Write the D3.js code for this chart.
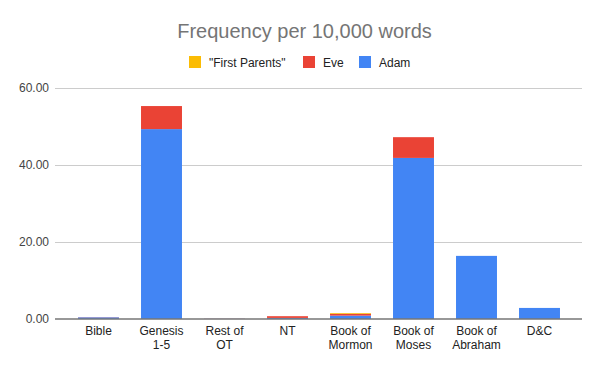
<!DOCTYPE html>
<html>
<head>
<meta charset="utf-8">
<script src="https://cdn.jsdelivr.net/npm/d3@7"></script>
<style>
  body { margin: 0; background: #fff; }
  svg { font-family: Arial, "Liberation Sans", sans-serif; }
</style>
</head>
<body>
<div id="chart"></div>
<script>
const categories = ['Bible', 'Genesis 1-5', 'Rest of OT', 'NT', 'Book of Mormon', 'Book of Moses', 'Book of Abraham', 'D&C'];
const labelLines = [['Bible'], ['Genesis', '1-5'], ['Rest of', 'OT'], ['NT'], ['Book of', 'Mormon'], ['Book of', 'Moses'], ['Book of', 'Abraham'], ['D&C']];
const adam = [0.3, 49.3, 0.02, 0.15, 0.75, 41.8, 16.3, 2.75];
const eve = [0.05, 6.0, 0.02, 0.45, 0.45, 5.4, 0, 0];
const firstParents = [0, 0, 0, 0, 0.2, 0, 0, 0];
const seriesNames = ['"First Parents"', 'Eve', 'Adam'];
const yTicks = [0, 20, 40, 60];

const width = 600, height = 371;
const margins = { top: 88, right: 18, bottom: 52, left: 55 };
const colors = { Adam: '#4285f4', Eve: '#ea4335', '"First Parents"': '#fbbc04' };

const svg = d3.select('#chart').append('svg')
  .attr('width', width)
  .attr('height', height);

const x = d3.scaleBand()
  .domain(categories)
  .range([67, 571])
  .paddingInner(0.35)
  .paddingOuter(0.175);

const y = d3.scaleLinear()
  .domain([0, 60])
  .range([height - margins.bottom - 0.5, margins.top]);

// title
svg.append('text')
  .attr('x', 304.5)
  .attr('y', 37.5)
  .attr('text-anchor', 'middle')
  .attr('font-size', 20)
  .attr('fill', '#757575')
  .text('Frequency per 10,000 words');

// legend
const legendX = [189, 303, 359];
seriesNames.forEach((name, i) => {
  const g = svg.append('g').attr('transform', `translate(${legendX[i]},56)`);
  g.append('rect').attr('width', 12).attr('height', 12).attr('fill', colors[name]);
  g.append('text')
    .attr('x', 20)
    .attr('y', 10.5)
    .attr('font-size', 12)
    .attr('fill', '#222')
    .text(name);
});

// grid
const grid = svg.append('g');
yTicks.forEach(t => {
  if (t === 0) return;
  grid.append('line')
    .attr('x1', margins.left).attr('x2', width - margins.right)
    .attr('y1', Math.round(y(t)) + 0.5).attr('y2', Math.round(y(t)) + 0.5)
    .attr('stroke', '#cccccc');
});
yTicks.forEach(t => {
  svg.append('text')
    .attr('x', 49)
    .attr('y', y(t) + 4)
    .attr('text-anchor', 'end')
    .attr('font-size', 12)
    .attr('fill', '#444')
    .text(d3.format('.2f')(t));
});

// stacked bars
const rows = categories.map((c, i) => ({ cat: c, Adam: adam[i], Eve: eve[i], '"First Parents"': firstParents[i] }));
const stack = d3.stack().keys(['Adam', 'Eve', '"First Parents"'])(rows);

svg.append('g').selectAll('g')
  .data(stack)
  .join('g')
  .attr('fill', d => colors[d.key])
  .selectAll('rect')
  .data(d => d)
  .join('rect')
  .attr('x', d => x(d.data.cat))
  .attr('width', x.bandwidth())
  .attr('y', d => y(d[1]))
  .attr('height', d => Math.max(0, y(d[0]) - y(d[1])));

// zero axis line
svg.append('line')
  .attr('x1', margins.left).attr('x2', width - margins.right)
  .attr('y1', y(0) + 0.5).attr('y2', y(0) + 0.5)
  .attr('stroke', '#333')
  .attr('stroke-width', 1.2);

// x labels
categories.forEach((c, i) => {
  const t = svg.append('text')
    .attr('text-anchor', 'middle')
    .attr('font-size', 12)
    .attr('fill', '#222');
  labelLines[i].forEach((line, j) => {
    t.append('tspan')
      .attr('x', x(c) + x.bandwidth() / 2)
      .attr('y', 335 + j * 14)
      .text(line);
  });
});
</script>
</body>
</html>
